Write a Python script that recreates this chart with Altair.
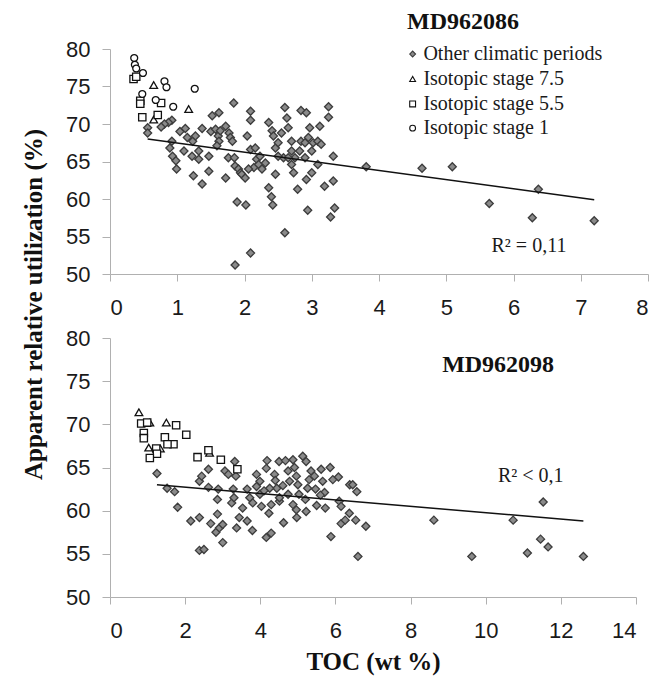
import altair as alt
import pandas as pd

CATS = ["Other climatic periods", "Isotopic stage 7.5", "Isotopic stage 5.5", "Isotopic stage 1"]

# ---------------- MD962086 (top) ----------------
top_other_x = [0.56, 0.56, 0.92, 0.89, 0.93, 0.98, 0.99, 0.92, 0.87, 0.81, 0.76, 1.04, 1.12, 1.10, 1.22,
               1.32, 1.47, 1.47, 1.37, 1.24, 1.15, 1.23, 1.27, 1.37, 1.52, 1.62, 1.50, 1.57, 1.61, 1.64,
               1.62, 1.59, 1.72, 1.77, 1.79, 1.76, 1.84, 1.85, 1.86, 1.91, 1.94, 1.96, 2.01, 1.72, 2.04,
               2.09, 2.09, 2.09, 2.16, 2.14, 2.18, 2.06, 2.21, 2.26, 2.31, 2.36, 2.41, 2.43, 2.46, 2.50,
               2.55, 2.58, 2.60, 2.63, 2.65, 2.70, 2.70, 2.75, 2.82, 2.84, 2.92, 2.84, 2.90, 2.95, 2.97,
               3.00, 3.02, 3.09, 3.12, 3.14, 3.25, 3.25, 3.32, 2.73, 2.79, 2.92, 3.00, 3.09, 3.19, 3.32,
               3.34, 3.28, 2.94, 2.36, 2.40, 2.42, 1.89, 2.02, 2.60, 2.09, 1.86, 3.81, 2.23, 2.50, 2.65,
               1.32, 1.82, 2.70, 2.90, 2.46, 4.64, 5.09, 5.64, 6.37, 6.28, 7.20]
top_other_y = [69.5, 68.8, 67.7, 66.8, 65.7, 65.1, 64.0, 70.5, 70.2, 70.0, 69.6, 69.0, 69.4, 66.4, 65.7,
               65.3, 65.7, 63.7, 62.0, 63.1, 68.2, 67.7, 68.4, 69.4, 71.1, 71.5, 69.0, 69.3, 68.4, 69.1,
               67.7, 67.1, 69.7, 68.8, 68.2, 65.5, 72.8, 65.5, 64.4, 64.0, 63.5, 63.3, 62.8, 62.8, 68.4,
               71.7, 70.5, 66.6, 66.8, 64.2, 65.3, 64.0, 64.6, 64.0, 64.8, 70.2, 69.1, 68.4, 66.8, 67.5,
               68.8, 65.5, 72.2, 70.8, 69.5, 67.7, 66.4, 65.5, 66.4, 71.8, 71.5, 67.7, 67.5, 68.2, 69.5,
               66.4, 67.5, 67.7, 69.7, 67.3, 72.3, 70.9, 65.7, 63.5, 61.3, 62.6, 63.5, 64.6, 61.7, 62.4,
               58.8, 57.6, 58.5, 61.5, 60.3, 59.2, 59.6, 59.2, 55.5, 52.8, 51.2, 64.3, 65.7, 65.7, 65.5,
               66.4, 67.7, 64.6, 65.5, 63.3, 64.1, 64.3, 59.4, 61.3, 57.5, 57.1]
top_s75_x = [0.65, 1.17, 0.65]
top_s75_y = [75.2, 72.0, 70.6]
top_s55_x = [0.35, 0.39, 0.45, 0.45, 0.76, 0.48, 0.71]
top_s55_y = [76.0, 76.3, 73.1, 72.7, 72.8, 70.9, 71.2]
top_s1_x = [0.36, 0.37, 0.39, 0.49, 0.81, 0.84, 1.26, 0.48, 0.68, 0.94]
top_s1_y = [78.8, 77.9, 77.4, 76.8, 75.7, 74.9, 74.7, 74.0, 73.2, 72.3]
top_trend_x = [0.56, 7.20]
top_trend_y = [68.0, 59.9]

# ---------------- MD962098 (bottom) ----------------
bot_other_x = [1.25, 1.52, 1.72, 1.80, 2.15, 2.38, 2.38, 2.50, 2.38, 2.44, 2.62, 2.62, 2.68, 2.82, 2.91,
               3.00, 3.00, 2.86, 2.86, 2.88, 3.06, 3.15, 3.32, 3.35, 3.28, 3.24, 3.37, 3.44, 3.53, 3.65,
               3.79, 3.65, 3.72, 3.90, 3.90, 3.99, 4.03, 4.18, 4.16, 4.23, 4.29, 4.16, 4.38, 4.50, 4.44,
               4.51, 4.62, 4.67, 4.74, 4.78, 4.87, 4.91, 4.96, 4.97, 5.03, 5.13, 5.22, 5.20, 5.26, 5.35,
               5.44, 5.47, 5.50, 5.62, 5.66, 5.71, 5.73, 5.86, 5.88, 5.93, 6.08, 6.10, 6.15, 6.15, 6.26,
               6.37, 6.38, 6.54, 6.57, 6.60, 6.81, 4.25, 4.51, 4.74, 4.87, 4.96, 5.22, 4.29, 3.99, 4.40,
               4.60, 5.00, 5.30, 5.60, 4.10, 3.80, 3.30, 6.46, 8.62, 9.63, 10.73, 11.53, 11.46, 11.66,
               11.11, 12.60]
bot_other_y = [64.3, 62.6, 62.2, 60.4, 58.8, 59.2, 55.4, 55.5, 63.4, 64.0, 64.8, 62.7, 58.5, 57.5, 58.0,
               58.4, 56.3, 59.6, 61.3, 62.5, 64.6, 64.2, 65.7, 64.0, 62.5, 60.9, 58.0, 59.2, 60.3, 58.8,
               57.7, 62.5, 61.5, 64.2, 62.8, 61.9, 60.5, 65.8, 64.9, 59.7, 57.4, 56.9, 64.2, 65.7, 62.6,
               61.1, 58.6, 65.8, 64.6, 63.4, 65.9, 65.0, 64.0, 59.2, 61.9, 66.3, 65.7, 61.3, 62.6, 64.6,
               64.0, 62.5, 60.6, 64.8, 63.4, 62.1, 60.3, 65.0, 57.0, 63.6, 63.9, 61.1, 60.5, 58.5, 58.9,
               59.7, 63.0, 58.9, 62.2, 54.7, 58.2, 62.6, 61.5, 61.9, 60.7, 60.1, 59.9, 60.7, 63.4, 63.5,
               62.9, 63.0, 63.6, 61.8, 62.3, 60.9, 61.5, 63.0, 58.9, 54.7, 58.9, 61.0, 56.7, 55.8,
               55.1, 54.7]
bot_s75_x = [0.77, 1.06, 1.50, 1.03, 1.34, 2.65]
bot_s75_y = [71.4, 70.2, 70.2, 67.3, 67.2, 66.7]
bot_s55_x = [0.83, 0.99, 0.90, 0.90, 1.76, 2.03, 1.46, 1.69, 1.53, 1.23, 1.25, 1.06, 2.33, 2.62, 2.95, 3.39]
bot_s55_y = [70.1, 70.2, 69.0, 68.4, 69.9, 68.8, 68.5, 67.7, 67.7, 67.2, 66.6, 66.1, 66.2, 67.0, 65.9, 64.8]
bot_trend_x = [1.25, 12.60]
bot_trend_y = [63.0, 58.8]

# y tick values shared by both panels
y_ticks = [50, 55, 60, 65, 70, 75, 80]

# annotations (text, x, y in data units of each panel)
top_title = ("MD962086", 5.25, 83.6)
top_r2 = ("R² = 0,11", 6.23, 53.7)
bot_title = ("MD962098", 10.33, 76.9)
bot_r2 = ("R² < 0,1", 11.2, 64.0)

# legend entries placed in the top panel (data units)
legend_x = 4.50
legend_label_x = 4.66
legend_y = [79.33, 76.0, 72.67, 69.45]


def frame(groups):
    rows = []
    for cat, xs, ys in groups:
        for a, b in zip(xs, ys):
            rows.append({"toc": a, "ru": b, "cat": cat})
    return pd.DataFrame(rows)


top_df = frame([(CATS[0], top_other_x, top_other_y), (CATS[1], top_s75_x, top_s75_y),
                (CATS[2], top_s55_x, top_s55_y), (CATS[3], top_s1_x, top_s1_y)])
bot_df = frame([(CATS[0], bot_other_x, bot_other_y), (CATS[1], bot_s75_x, bot_s75_y),
                (CATS[2], bot_s55_x, bot_s55_y)])
leg_df = pd.DataFrame({"cat": CATS, "toc": [legend_x] * 4, "lx": [legend_label_x] * 4, "ru": legend_y})

shape_scale = alt.Scale(domain=CATS, range=["diamond", "triangle-up", "square", "circle"])
fill_scale = alt.Scale(domain=CATS, range=["#8a8a8a", "#ffffff", "#ffffff", "#ffffff"])
stroke_scale = alt.Scale(domain=CATS, range=["#3c3c3c", "#111111", "#111111", "#111111"])
size_scale = alt.Scale(domain=CATS, range=[64, 48, 44, 48])

TICK_FONT = "Liberation Sans"
SERIF = "Liberation Serif"


def panel(df, tx, ty, xmax, xstep, w, h, title_ann, r2_ann, ytitle, xtitle, legend):
    yaxis_kw = dict(values=y_ticks, tickCount=len(y_ticks), format="d", labelOverlap=False,
                    labelSeparation=0, grid=False,
                    domainColor="#b0b0b0", tickColor="#b0b0b0", tickSize=8, labelFont=TICK_FONT,
                    labelFontSize=22, labelColor="#1a1a1a", labelPadding=12)
    if ytitle:
        yaxis_kw.update(titleFont=SERIF, titleFontSize=25, titleFontWeight="bold", titleColor="#111",
                        titleX=-64, titleY=-34, titleAngle=270, titleAlign="center", titleBaseline="bottom")
    xaxis_kw = dict(values=list(range(0, xmax + 1, xstep)), format="d", labelOverlap=False, grid=False,
                    domainColor="#b0b0b0", tickColor="#b0b0b0", tickSize=7, labelFont=TICK_FONT,
                    labelFontSize=22, labelColor="#1a1a1a", labelPadding=16)
    if xtitle:
        xaxis_kw.update(titleFont=SERIF, titleFontSize=25, titleFontWeight="bold", titleColor="#111",
                        titlePadding=8)
    x_enc = alt.X("toc:Q", scale=alt.Scale(domain=[0, xmax], nice=False),
                  axis=alt.Axis(**xaxis_kw), title=xtitle)
    y_enc = alt.Y("ru:Q", scale=alt.Scale(domain=[50, 80], nice=False),
                  axis=alt.Axis(**yaxis_kw), title=ytitle)

    pts = alt.Chart(df).mark_point(opacity=1, fillOpacity=1, strokeWidth=1.3).encode(
        x=x_enc, y=y_enc,
        shape=alt.Shape("cat:N", scale=shape_scale, legend=None),
        fill=alt.Fill("cat:N", scale=fill_scale, legend=None),
        stroke=alt.Stroke("cat:N", scale=stroke_scale, legend=None),
        size=alt.Size("cat:N", scale=size_scale, legend=None))
    trend = alt.Chart(pd.DataFrame({"toc": tx, "ru": ty})).mark_line(
        color="#111", strokeWidth=1.5).encode(x="toc:Q", y="ru:Q")
    ttl = alt.Chart(pd.DataFrame([{"t": title_ann[0], "toc": title_ann[1], "ru": title_ann[2]}])).mark_text(
        font=SERIF, fontSize=24, fontWeight="bold", color="#111", baseline="middle").encode(
        x="toc:Q", y="ru:Q", text="t:N")
    r2 = alt.Chart(pd.DataFrame([{"t": r2_ann[0], "toc": r2_ann[1], "ru": r2_ann[2]}])).mark_text(
        font=SERIF, fontSize=20, color="#1a1a1a", baseline="middle").encode(
        x="toc:Q", y="ru:Q", text="t:N")
    layers = [pts, trend, ttl, r2]
    if legend:
        lsym = alt.Chart(leg_df).mark_point(opacity=1, fillOpacity=1, strokeWidth=1.1, size=34).encode(
            x="toc:Q", y="ru:Q",
            shape=alt.Shape("cat:N", scale=shape_scale, legend=None),
            fill=alt.Fill("cat:N", scale=fill_scale, legend=None),
            stroke=alt.Stroke("cat:N", scale=stroke_scale, legend=None))
        ltxt = alt.Chart(leg_df).mark_text(font=SERIF, fontSize=20, color="#1a1a1a", align="left",
                                           baseline="middle").encode(
            x="lx:Q", y="ru:Q", text="cat:N")
        layers += [lsym, ltxt]
    return alt.layer(*layers).properties(width=w, height=h)


top = panel(top_df, top_trend_x, top_trend_y, 8, 1, 538, 225, top_title, top_r2, "", "", True)
bottom = panel(bot_df, bot_trend_x, bot_trend_y, 14, 2, 526, 259, bot_title, bot_r2,
               "Apparent relative utilization (%)", "TOC (wt %)", False)

chart = alt.vconcat(top, bottom, spacing=64, bounds="flush").properties(
    padding={"left": 12, "top": 2, "right": 5, "bottom": 5},
    background="white",
).configure_view(stroke=None).configure_axis(labelOverlap=False)

chart.save("out.html", embed_options={"renderer": "svg", "actions": False})
